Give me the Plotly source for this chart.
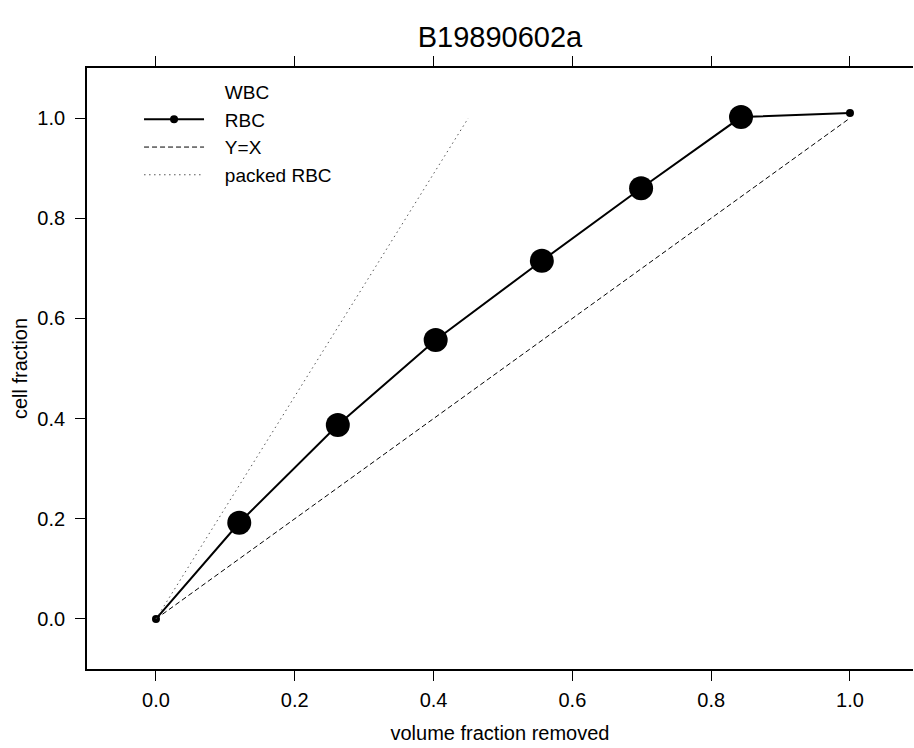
import plotly.graph_objects as go

# Data
rbc_x = [0.0, 0.12, 0.262, 0.403, 0.556, 0.699, 0.843, 1.0]
rbc_y = [0.0, 0.192, 0.387, 0.557, 0.715, 0.860, 1.002, 1.01]
yx_x = [0.0, 1.0]
yx_y = [0.0, 1.0]
packed_x = [0.0, 0.45]
packed_y = [0.0, 1.0]
x_ticks = [0.0, 0.2, 0.4, 0.6, 0.8, 1.0]
y_ticks = [0.0, 0.2, 0.4, 0.6, 0.8, 1.0]

font = "Liberation Sans, Arial, sans-serif"
pad = "\u00a0\u00a0\u00a0"

fig = go.Figure()
fig.add_trace(go.Scatter(x=[None], y=[None], mode="lines", name=pad + "WBC",
                         line=dict(color="rgba(0,0,0,0)", width=0)))
fig.add_trace(go.Scatter(x=rbc_x, y=rbc_y, mode="lines+markers", name=pad + "RBC",
                         line=dict(color="black", width=2),
                         marker=dict(color="black", size=8)))
fig.add_trace(go.Scatter(x=rbc_x[1:-1], y=rbc_y[1:-1], mode="markers",
                         showlegend=False, marker=dict(color="black", size=24)))
fig.add_trace(go.Scatter(x=yx_x, y=yx_y, mode="lines", name=pad + "Y=X",
                         line=dict(color="black", width=1, dash="5px,3px")))
fig.add_trace(go.Scatter(x=packed_x, y=packed_y, mode="lines", name=pad + "packed RBC",
                         line=dict(color="#555555", width=1, dash="1.5px,3.5px")))

axis_common = dict(showgrid=False, zeroline=False, showline=True, linecolor="black",
                   linewidth=1.8, ticks="outside", ticklen=10, automargin=False,
                   tickcolor="black", tickwidth=1,
                   tickfont=dict(family=font, size=20, color="black"))

fig.update_layout(
    width=914, height=748,
    paper_bgcolor="white", plot_bgcolor="white",
    margin=dict(l=87, r=1, t=68, b=79),
    title=dict(text="B19890602a", x=0.5, xref="paper", y=0.951, yref="container",
               xanchor="center", yanchor="middle",
               font=dict(family=font, size=29, color="black")),
    xaxis=dict(range=[-0.0994, 1.0908], tickvals=x_ticks, ticktext=[f"{v:.1f}" for v in x_ticks],
               mirror="ticks", ticklabelstandoff=2,
               title=dict(text="volume fraction removed", font=dict(family=font, size=20, color="black"),
                          standoff=16),
               **axis_common),
    yaxis=dict(range=[-0.1, 1.1], tickvals=y_ticks, ticktext=[f"{v:.1f}" for v in y_ticks],
               mirror=False, ticklabelstandoff=6,
               title=dict(text="cell fraction", font=dict(family=font, size=20, color="black"),
                          standoff=4),
               **axis_common),
    legend=dict(x=0.063, y=0.992, xanchor="left", yanchor="top", bgcolor="rgba(0,0,0,0)",
                font=dict(family=font, size=19, color="black"), itemwidth=60),
    showlegend=True,
)

fig.write_html("out.html", config={"displayModeBar": False},
               post_script="document.body.style.margin='0';")
